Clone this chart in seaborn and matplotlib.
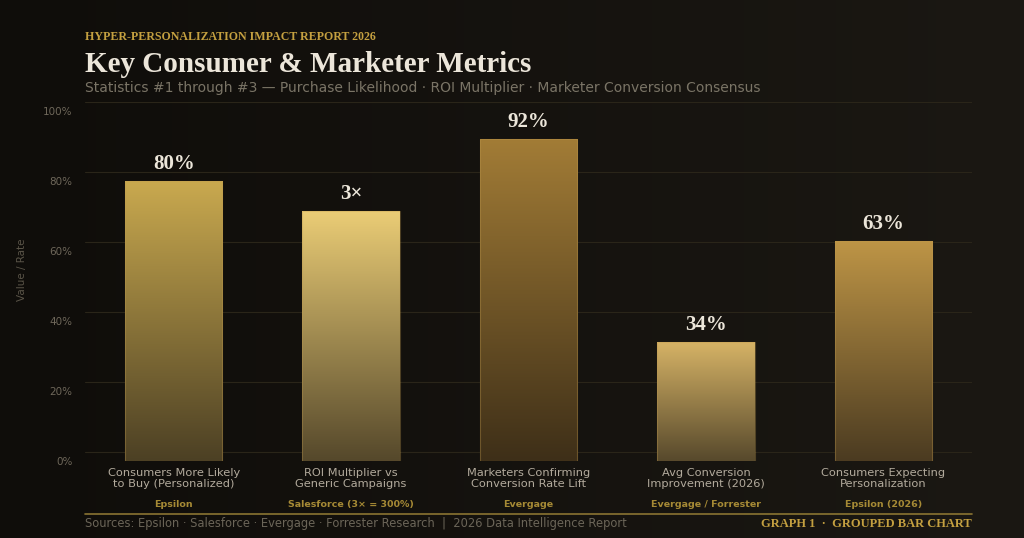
import numpy as np
import pandas as pd
import matplotlib
matplotlib.use("Agg")
import matplotlib.pyplot as plt
from matplotlib.colors import to_rgb
import seaborn as sns

# ---------------- data ----------------
categories = [
    "Consumers More Likely\nto Buy (Personalized)",
    "ROI Multiplier vs\nGeneric Campaigns",
    "Marketers Confirming\nConversion Rate Lift",
    "Avg Conversion\nImprovement (2026)",
    "Consumers Expecting\nPersonalization",
]
sources = ["Epsilon", "Salesforce (3× = 300%)", "Evergage", "Evergage / Forrester", "Epsilon (2026)"]
values = [80, 71.5, 92, 34, 63]
value_labels = ["80%", "3×", "92%", "34%", "63%"]
y_ticks = [0, 20, 40, 60, 80, 100]
y_tick_labels = ["0%", "20%", "40%", "60%", "80%", "100%"]

# ---------------- style ----------------
top_colors = ["#c9a94f", "#ebcd76", "#a27c36", "#d6b366", "#be9546"]
bottom_colors = ["#4c4024", "#55482b", "#3e2f18", "#57492c", "#4b3b21"]
GOLD = "#c4a040"
SERIF = ["Liberation Serif", "DejaVu Serif"]
SANS = ["DejaVu Sans"]

sns.set_theme(style="dark")
plt.rcParams["font.family"] = SANS

fig = plt.figure(figsize=(10.24, 5.38), dpi=100)

# background gradient
bg = fig.add_axes([0, 0, 1, 1], zorder=-10)
c0, c1 = np.array(to_rgb("#0f0d0a")), np.array(to_rgb("#1b1813"))
t = np.linspace(0, 1, 256)
grad = (c0[None, :] * (1 - t[:, None]) + c1[None, :] * t[:, None])[None, :, :]
bg.imshow(grad, aspect="auto", extent=[0, 1, 0, 1])
bg.set_axis_off()

ax = fig.add_axes([85 / 1024, 1 - 461 / 538, (972 - 85) / 1024, (461 - 102) / 538])
ax.set_facecolor("none")

df = pd.DataFrame({"category": categories, "value": values})
sns.barplot(data=df, x="category", y="value", hue="category", palette=top_colors,
            legend=False, width=0.55, ax=ax, saturation=1)

# gradient fill for bars
for i, p in enumerate(ax.patches):
    x, w, h = p.get_x(), p.get_width(), p.get_height()
    ct, cb = np.array(to_rgb(top_colors[i])), np.array(to_rgb(bottom_colors[i]))
    s = np.linspace(0, 1, 256)[:, None]
    g = (ct[None, :] * (1 - s) + cb[None, :] * s)[:, None, :]
    im = ax.imshow(g, aspect="auto", extent=[x, x + w, 0, h], zorder=2, origin="upper")
    im.set_clip_path(p)
    p.set_facecolor("none")
    p.set_edgecolor((0.75, 0.6, 0.3, 0.35))
    p.set_linewidth(0.8)
    p.set_zorder(3)
    ax.annotate(value_labels[i], (x + w / 2, h), xytext=(0, 12), textcoords="offset points",
                ha="center", va="center", fontsize=15, fontweight="bold",
                color="#ece6da", family=SERIF, zorder=5)
ax.set_xlim(-0.5, 4.5)
ax.set_ylim(0, 102.6)

# grid
ax.set_yticks(y_ticks)
ax.set_yticklabels(y_tick_labels, fontsize=7.5, color="#6e675a")
ax.grid(False)
for yv in y_ticks:
    ax.axhline(yv + 2.6, color="#2a2519", lw=0.8, zorder=1)
ax.tick_params(axis="y", length=0, pad=9)
ax.tick_params(axis="x", length=0)
ax.set_xticks(range(len(categories)))
ax.set_xticklabels([])
ax.set_xlabel("")
ax.set_ylabel("")
for sp in ax.spines.values():
    sp.set_visible(False)

fig.text(22 / 1024, 1 - 270 / 538, "Value / Rate", rotation=90, fontsize=7.5,
         color="#5a5448", ha="center", va="center")

# category labels and sources
for i, (cat, src) in enumerate(zip(categories, sources)):
    ax.text(i, -1.9, cat, ha="center", va="top", fontsize=8.2, color="#b3ab9d",
            linespacing=1.12, transform=ax.transData, clip_on=False)
    ax.text(i, -11.2, src, ha="center", va="top", fontsize=6.8, color="#a68a35",
            fontweight="bold", transform=ax.transData, clip_on=False)

# header
fig.text(85 / 1024, 1 - 37 / 538, "HYPER-PERSONALIZATION IMPACT REPORT 2026", fontsize=8.6,
         fontweight="bold", color=GOLD, family=SERIF, va="center", ha="left")
fig.text(85 / 1024, 1 - 65 / 538, "Key Consumer & Marketer Metrics", fontsize=21,
         fontweight="bold", color="#ece6da", family=SERIF, va="center", ha="left")
fig.text(85 / 1024, 1 - 88 / 538,
         "Statistics #1 through #3 — Purchase Likelihood · ROI Multiplier · Marketer Conversion Consensus",
         fontsize=10, color="#7a7466", va="center", ha="left")

# footer
fig.add_artist(plt.Line2D([85 / 1024, 972 / 1024], [1 - 514 / 538, 1 - 514 / 538],
                          color="#8a7432", lw=1.2))
fig.text(85 / 1024, 1 - 524 / 538,
         "Sources: Epsilon · Salesforce · Evergage · Forrester Research  |  2026 Data Intelligence Report",
         fontsize=8.3, color="#6b6558", va="center", ha="left")
fig.text(972 / 1024, 1 - 524 / 538, "GRAPH 1  ·  GROUPED BAR CHART", fontsize=9,
         fontweight="bold", color=GOLD, family=SERIF, va="center", ha="right")

fig.savefig("out.png", dpi=100, facecolor="#13110d")
